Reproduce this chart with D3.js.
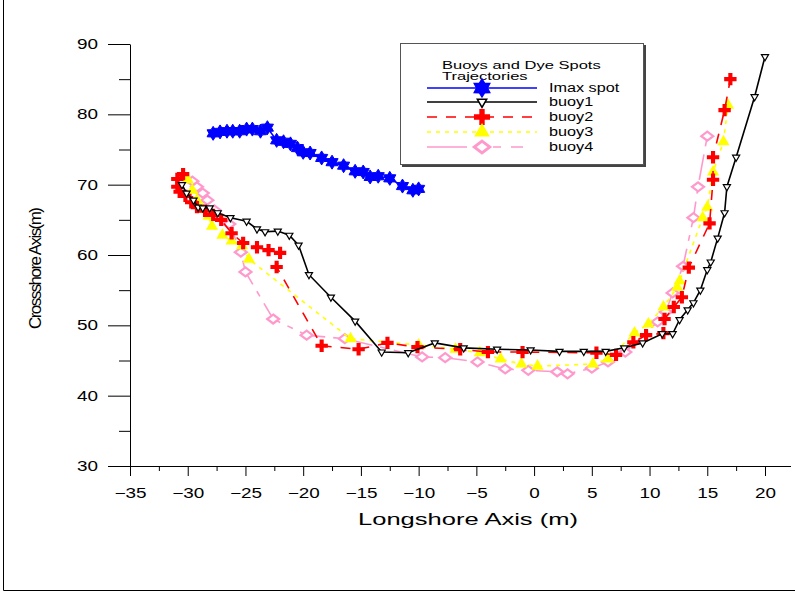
<!doctype html>
<html lang="en">
<head>
<meta charset="utf-8">
<title>Buoys and Dye Spots Trajectories</title>
<style>
body{margin:0;background:#fff;}
svg{display:block;font-family:"Liberation Sans",Arial,sans-serif;}
</style>
</head>
<body>
<script src="https://cdn.jsdelivr.net/npm/d3@7/dist/d3.min.js"></script>
<script>

// [longshore, crossshore] in metres
var imax = [[-27.8,77.3],[-27.2,77.5],[-26.6,77.6],[-26.1,77.6],[-25.5,77.6],[-24.9,77.9],[-24.4,77.9],[-23.7,77.6],[-23.1,78.1],
  [-22.3,76.3],[-21.7,76.1],[-21.1,75.8],[-20.5,75.2],[-20.0,74.6],[-19.4,74.5],[-18.4,73.8],[-17.5,73.2],[-16.5,72.7],
  [-15.5,71.9],[-14.8,71.8],[-14.2,71.1],[-13.5,71.2],[-12.5,70.9],[-11.4,69.8],[-10.5,69.2],[-10.0,69.4]];

var buoy1 = [[-30.5,70.0],[-30.1,68.8],[-29.5,67.8],[-29.1,66.8],[-28.7,66.7],[-28.1,66.7],[-27.4,66.0],[-26.3,65.3],[-24.9,64.8],
  [-24.0,63.7],[-23.3,63.3],[-22.2,63.4],[-21.2,62.8],[-20.4,61.4],[-19.5,57.2],[-17.6,54.0],[-15.5,50.6],[-13.2,46.2],
  [-10.9,46.1],[-8.6,47.5],[-6.1,46.8],[-3.2,46.6],[-0.3,46.5],[2.2,46.3],[4.3,46.3],[6.2,46.3],[7.8,46.8],[9.4,47.5],
  [11.1,48.8],[12.0,48.8],[12.6,50.8],[13.3,52.2],[13.8,53.2],[14.4,55.0],[15.0,57.9],[15.3,59.0],[15.9,62.4],[16.5,66.0],
  [16.7,69.7],[17.5,73.9],[19.1,82.5],[20.0,88.2]];

var buoy2 = [[-30.4,71.5],[-30.9,70.8],[-30.9,69.7],[-30.7,69.0],[-30.2,68.4],[-29.7,67.5],[-29.2,66.8],[-28.5,66.3],[-27.8,65.7],
  [-27.1,65.0],[-26.2,63.1],[-25.2,61.7],[-24.0,61.1],[-23.0,60.7],[-22.0,60.3],[-22.3,58.3],[-18.4,47.1],[-15.2,46.6],
  [-12.7,47.5],[-10.1,46.9],[-6.4,46.6],[-4.0,46.2],[-1.0,46.2],[5.4,46.1],[7.1,45.8],[8.6,47.6],[9.7,48.6],[11.2,48.9],
  [11.3,50.9],[12.1,52.6],[12.8,54.0],[13.4,58.2],[15.2,64.5],[15.5,70.7],[15.5,73.9],[16.5,80.6],[17.0,85.0]];

var buoy3 = [[-30.0,70.7],[-29.6,69.2],[-29.2,67.8],[-28.7,66.5],[-28.2,65.5],[-27.9,64.1],[-27.0,62.8],[-26.2,62.0],[-25.3,61.3],
  [-24.7,59.4],[-15.9,48.1],[-10.0,47.2],[-6.8,46.6],[-4.7,46.1],[-2.9,45.2],[-1.1,44.5],[0.3,44.2],[5.1,44.5],[6.4,45.2],
  [8.7,48.9],[9.9,50.2],[11.2,52.6],[12.4,55.4],[12.6,56.3],[14.6,65.3],[15.0,66.8],[15.5,71.8],[16.4,76.1],[16.8,81.3]];

var buoy4 = [[-29.6,70.5],[-29.2,69.7],[-28.7,68.8],[-28.3,67.8],[-27.7,66.4],[-26.4,64.4],[-25.4,60.4],[-25.0,57.6],[-22.6,50.9],
  [-19.7,48.6],[-16.4,48.1],[-9.7,45.5],[-7.7,45.4],[-4.9,44.8],[-2.5,43.8],[-0.5,43.6],[2.0,43.4],[2.9,43.1],[5.0,43.9],
  [6.4,44.8],[7.9,46.2],[10.7,50.5],[11.4,51.9],[12.0,54.6],[12.9,58.4],[13.8,65.3],[14.2,69.7],[15.0,76.9]];

var seriesNames = ["Imax spot", "buoy1", "buoy2", "buoy3", "buoy4"];
var xTicks = [-35,-30,-25,-20,-15,-10,-5,0,5,10,15,20];
var yTicks = [30,40,50,60,70,80,90];

var W = 795, H = 594;
var K = 1.35; // the original figure is stretched sideways

var svg = d3.select("body").append("svg")
    .attr("width", W)
    .attr("height", H);

// page frame (left and bottom edges show in the original)
svg.append("path")
   .attr("d", "M3.5,0V590.5H795")
   .attr("fill", "none").attr("stroke", "#000");

var x = d3.scaleLinear().domain([-35, 20]).range([130, 765]);
var y = d3.scaleLinear().domain([30, 90]).range([466, 44]);

function stretch(sel, k){
  sel.each(function(){
    var w = this.getComputedTextLength();
    d3.select(this).attr("textLength", w * k).attr("lengthAdjust", "spacingAndGlyphs");
  });
}

// minor ticks first, then major ones with labels
svg.append("g")
   .attr("transform", "translate(130,0)")
   .call(d3.axisLeft(y).tickValues([35,45,55,65,75,85]).tickSize(11).tickSizeOuter(0).tickFormat(""))
   .call(function(g){ g.select(".domain").remove(); });

var yAxis = svg.append("g")
   .attr("transform", "translate(130,0)")
   .call(d3.axisLeft(y).tickValues(yTicks).tickSize(22).tickSizeOuter(0).tickPadding(10));
yAxis.selectAll("text").attr("font-size", 14).attr("font-family", "Liberation Sans, Arial, sans-serif").attr("fill", "#000");
yAxis.selectAll("line, path").attr("stroke", "#000");
stretch(yAxis.selectAll("text"), K);

var minorX = d3.range(-32.5, 21, 5);
svg.append("g")
   .attr("transform", "translate(0,466)")
   .call(d3.axisBottom(x).tickValues(minorX).tickSize(5).tickSizeOuter(0).tickFormat(""))
   .call(function(g){ g.select(".domain").remove(); });

var xAxis = svg.append("g")
   .attr("transform", "translate(0,466)")
   .call(d3.axisBottom(x).tickValues(xTicks).tickSize(10).tickSizeOuter(0).tickPadding(12));
xAxis.select(".domain").remove();
xAxis.selectAll("text").attr("font-size", 14).attr("font-family", "Liberation Sans, Arial, sans-serif").attr("fill", "#000");
xAxis.selectAll("line").attr("stroke", "#000");
stretch(xAxis.selectAll("text"), K);

svg.append("line")
   .attr("x1", 130).attr("x2", 791)
   .attr("y1", 466.5).attr("y2", 466.5)
   .attr("stroke", "#000");

svg.append("text")
   .attr("x", 468).attr("y", 525)
   .attr("text-anchor", "middle")
   .attr("font-size", 17)
   .attr("textLength", 220).attr("lengthAdjust", "spacingAndGlyphs")
   .text("Longshore Axis (m)");

svg.append("text")
   .attr("transform", "translate(41,268) rotate(-90)")
   .attr("text-anchor", "middle")
   .attr("font-size", 17)
   .attr("textLength", 122).attr("lengthAdjust", "spacing")
   .text("Crossshore Axis(m)");

// marker shapes
function star6(r){
  var pts = [];
  for (var i = 0; i < 12; i++){
    var a = Math.PI / 6 * i - Math.PI / 2, rr = i % 2 ? r * 0.6 : r;
    pts.push([rr * Math.cos(a), rr * Math.sin(a)]);
  }
  return "M" + pts.join("L") + "Z";
}
function diamond(w, h){
  return "M0," + (-h) + "L" + w + ",0L0," + h + "L" + (-w) + ",0Z";
}

var styles = {
  "Imax spot": {data: imax,  color: "#0000ff", dash: null,        marker: function(s){ return star6(7 * s); },
                fill: "#0000ff", mstroke: "#0000ff", mw: 1},
  "buoy1":     {data: buoy1, color: "#000000", dash: null,        marker: function(s){ return d3.symbol(d3.symbolTriangle, 22 * s * s)(); },
                fill: "#fff", mstroke: "#000", mw: 1.2, rot: 180},
  "buoy2":     {data: buoy2, color: "#ff0000", dash: "10,9",      marker: function(s){ return d3.symbol(d3.symbolCross, 85 * s * s)(); },
                fill: "#ff0000", mstroke: "none", mw: 0},
  "buoy3":     {data: buoy3, color: "#ffff00", dash: "4,5",       marker: function(s){ return d3.symbol(d3.symbolTriangle, 64 * s * s)(); },
                fill: "#ffff00", mstroke: "none", mw: 0},
  "buoy4":     {data: buoy4, color: "#ff99cc", dash: "26,8,6,8",  marker: function(s){ return diamond(6 * s, 4.5 * s); },
                fill: "#fff", mstroke: "#ff99cc", mw: 2.2}
};

var line = d3.line().x(function(d){ return x(d[0]); }).y(function(d){ return y(d[1]); });

// draw back to front so the black buoy track sits over the others
["buoy4", "buoy3", "buoy2", "buoy1", "Imax spot"].forEach(function(name){
  var st = styles[name];
  var g = svg.append("g");
  g.append("path")
   .datum(st.data)
   .attr("d", line)
   .attr("fill", "none")
   .attr("stroke", st.color)
   .attr("stroke-width", 1.6)
   .attr("stroke-dasharray", st.dash);
  g.selectAll("path.m")
   .data(st.data)
   .enter().append("path")
   .attr("class", "m")
   .attr("d", st.marker(1))
   .attr("transform", function(d){ return "translate(" + x(d[0]) + "," + y(d[1]) + ")" + (st.rot ? " rotate(" + st.rot + ")" : ""); })
   .attr("fill", st.fill)
   .attr("stroke", st.mstroke)
   .attr("stroke-width", st.mw);
});

// legend
var lg = svg.append("g");
lg.append("rect").attr("x", 402).attr("y", 45).attr("width", 244).attr("height", 122).attr("fill", "#444");
lg.append("rect").attr("x", 400.5).attr("y", 43.5).attr("width", 243).attr("height", 121)
  .attr("fill", "#fff").attr("stroke", "#555");

var title = lg.append("text").attr("font-size", 11);
title.append("tspan").attr("x", 442).attr("y", 69).text("Buoys and Dye Spots");
title.append("tspan").attr("x", 442).attr("y", 80).text("Trajectories");
stretch(title.selectAll("tspan"), 1.5);

var rowY = [88, 102, 117, 132, 147];
seriesNames.forEach(function(name, i){
  var st = styles[name];
  lg.append("line")
    .attr("x1", 427).attr("x2", 537)
    .attr("y1", rowY[i]).attr("y2", rowY[i])
    .attr("stroke", st.color)
    .attr("stroke-width", 1.6)
    .attr("stroke-dasharray", name === "buoy4" ? "40,26,8,10,12" : st.dash);
  lg.append("path")
    .attr("d", st.marker(1.3))
    .attr("transform", "translate(482," + rowY[i] + ")" + (st.rot ? " rotate(" + st.rot + ")" : ""))
    .attr("fill", st.fill)
    .attr("stroke", st.mstroke)
    .attr("stroke-width", st.mw * 1.3);
  var t = lg.append("text")
    .attr("x", 549).attr("y", rowY[i] + 4)
    .attr("font-size", 12)
    .text(name);
  stretch(t, 1.35);
});

</script>
</body>
</html>
